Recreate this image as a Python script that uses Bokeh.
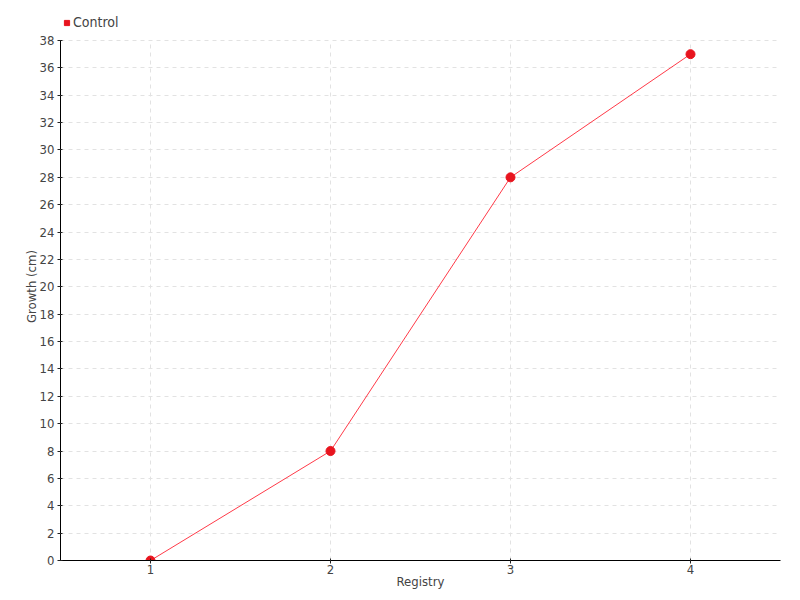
from bokeh.plotting import figure
from bokeh.models import Range1d, FixedTicker, Legend, LegendItem, ColumnDataSource
from bokeh.embed import file_html
from bokeh.resources import INLINE

registry = [1, 2, 3, 4]
growth = [0, 8, 28, 37]
y_ticks = list(range(0, 39, 2))
x_ticks = [1, 2, 3, 4]
series_name = "Control"
red = "#e8141e"
FONT = "DejaVu Sans Condensed"
TXT = "#444444"

y_lo, y_hi = y_ticks[0], y_ticks[-1]
# frame reaches 28px above the top tick so the legend fits inside it
y_view_max = y_hi * 548 / 520

src = ColumnDataSource(dict(x=registry, y=growth))

p = figure(width=800, height=600, output_backend="svg", toolbar_location=None,
           x_range=Range1d(0.5, 4.5), y_range=Range1d(y_lo, y_view_max),
           min_border_left=60, min_border_right=20, min_border_top=12, min_border_bottom=40)
p.outline_line_color = None

p.grid.grid_line_color = "#e2e2e2"
p.grid.grid_line_dash = "4 4"
p.xgrid.ticker = FixedTicker(ticks=x_ticks)
p.ygrid.ticker = FixedTicker(ticks=y_ticks)
try:
    p.xgrid.cross_bounds = (y_lo, y_hi)
except Exception:
    p.xgrid.visible = False
    p.segment(x0=x_ticks, y0=[y_lo] * len(x_ticks), x1=x_ticks, y1=[y_hi] * len(x_ticks),
              line_color="#e2e2e2", line_dash="4 4", line_width=1)

line_r = p.line("x", "y", source=src, line_color="#ff3a48", line_width=1)
pt_r = p.scatter("x", "y", source=src, size=9, marker="circle", fill_color=red, line_color=red)
proxy = p.scatter(x=registry[:1], y=growth[:1], marker="square", size=0,
                  fill_color=red, line_color=red)

for ax in (p.xaxis[0], p.yaxis[0]):
    ax.axis_line_color = "black"
    ax.major_tick_line_color = "#222222"
    ax.minor_tick_line_color = None
    ax.major_tick_in = 2
    ax.major_tick_out = 3
    ax.major_label_text_font = FONT
    ax.major_label_text_font_size = "13px"
    ax.major_label_text_color = TXT
    ax.axis_label_text_font = FONT
    ax.axis_label_text_font_size = "13px"
    ax.axis_label_text_font_style = "normal"
    ax.axis_label_text_color = TXT

p.xaxis.ticker = FixedTicker(ticks=x_ticks)
p.yaxis.ticker = FixedTicker(ticks=y_ticks)
p.yaxis.bounds = (y_lo, y_hi)
p.xaxis.axis_label = "Registry"
p.yaxis.axis_label = "Growth (cm)"
p.xaxis.major_label_standoff = 1
p.yaxis.major_label_standoff = 3
p.xaxis.axis_label_standoff = -3
p.yaxis.axis_label_standoff = -2

legend = Legend(items=[LegendItem(label=series_name, renderers=[proxy])],
                location=(0, 530), orientation="horizontal",
                glyph_width=13, glyph_height=15, label_height=16,
                padding=0, spacing=0, label_standoff=0, margin=0,
                label_text_font=FONT, label_text_font_size="14px", label_text_color=TXT,
                background_fill_alpha=0, border_line_color=None)
p.add_layout(legend, "center")

open("out.html", "w").write(file_html(p, INLINE))
